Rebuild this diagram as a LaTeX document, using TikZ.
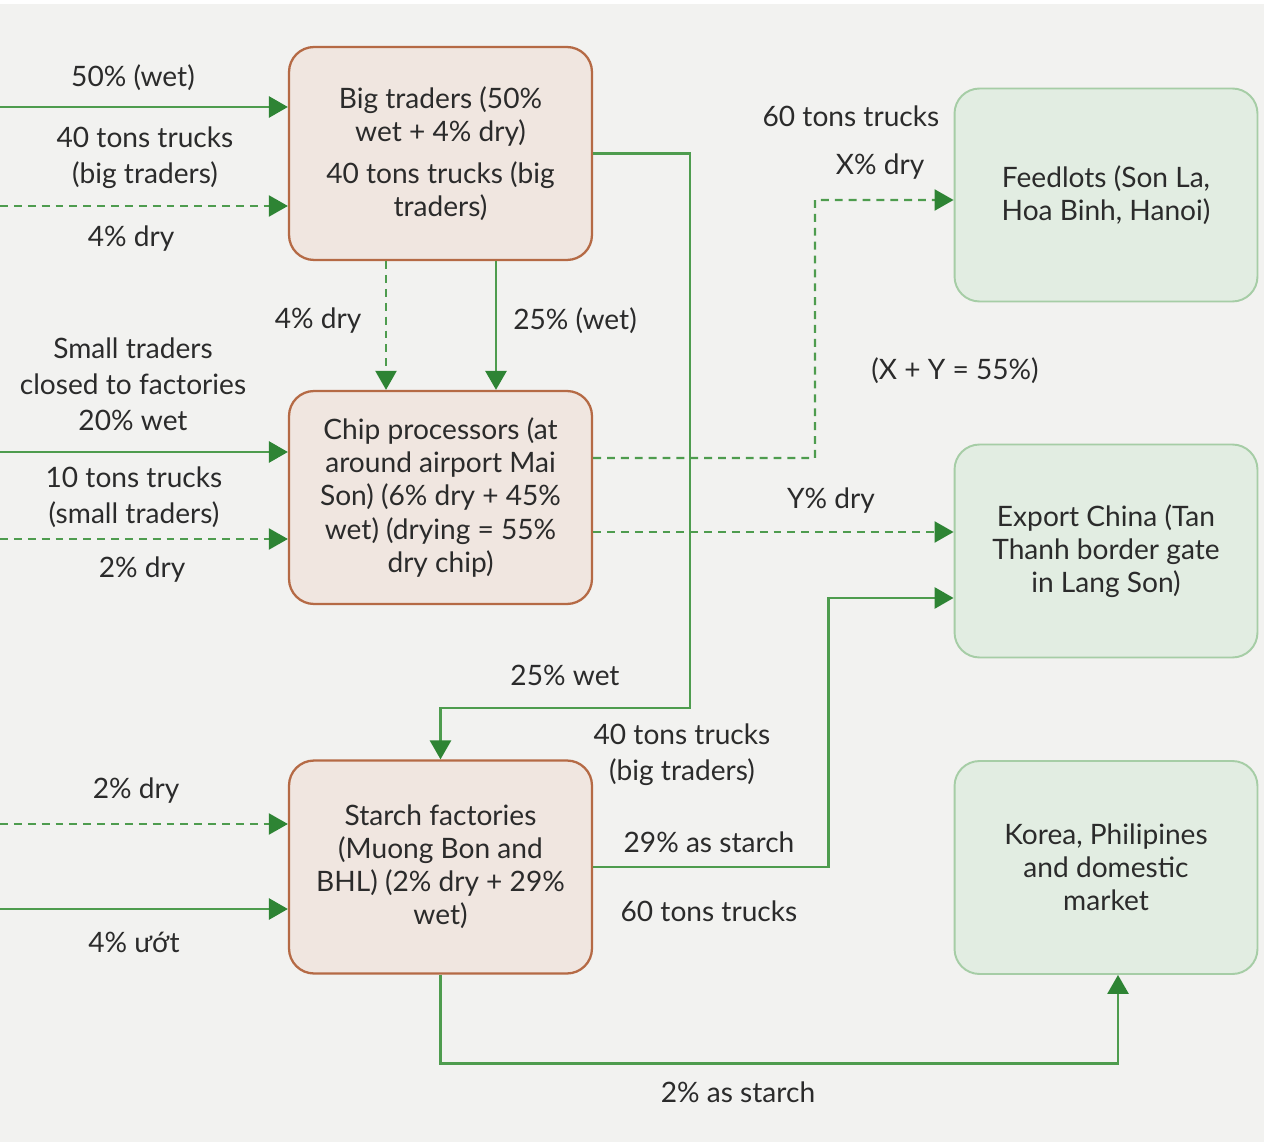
\documentclass[tikz,border=0pt]{standalone}
\usepackage{fontspec}
\setmainfont{Lato}
\usetikzlibrary{arrows.meta, positioning, calc}
\definecolor{flowgreen}{HTML}{4E9C4E}
\definecolor{tipgreen}{HTML}{2E8434}
\definecolor{clay}{HTML}{B56A45}
\definecolor{clayfill}{HTML}{F0E6E0}
\definecolor{sage}{HTML}{A6CDA6}
\definecolor{sagefill}{HTML}{E2EDE2}
\definecolor{paper}{HTML}{F2F2F0}
\definecolor{ink}{HTML}{2B2B2B}
\newcommand{\boxfont}{\fontsize{16}{18.8}\selectfont}
\newcommand{\lblfont}{\fontsize{16}{20.5}\selectfont}
\tikzset{
  tradebox/.style={rectangle, rounded corners=0.5cm, draw=clay, fill=clayfill,
                   line width=1.3pt, minimum width=6.06cm, minimum height=4.26cm,
                   align=center, font=\boxfont, text=ink},
  destbox/.style={tradebox, draw=sage, fill=sagefill, line width=1.1pt},
  lbl/.style={align=center, font=\lblfont, text=ink},
  wet/.style={-{Triangle[length=0.38cm, width=0.42cm, color=tipgreen]},
              flowgreen, line width=1.6pt},
  dry/.style={wet, line width=1.3pt, dash pattern=on 4.5pt off 3.4pt},
}

\begin{document}
\begin{tikzpicture}[x=0.02cm, y=-0.02cm]
\useasboundingbox (0,0) rectangle (1264,1148);
\fill[paper] (0,4) rectangle (1264,1142);

% actors
\node[tradebox] (BT) at (440.5,153.5) {Big traders (50\%\\wet + 4\% dry)\\[5pt]40 tons trucks (big\\traders)};
\node[tradebox] (CP) at (440.5,497.5) {Chip processors (at\\around airport Mai\\Son) (6\% dry + 45\%\\wet) (drying = 55\%\\dry chip)};
\node[tradebox] (SF) at (440.5,867) {Starch factories\\(Muong Bon and\\BHL) (2\% dry + 29\%\\wet)};
\node[destbox] (FL) at (1106,195) {Feedlots (Son La,\\Hoa Binh, Hanoi)};
\node[destbox] (EC) at (1106,551) {Export China (Tan\\Thanh border gate\\in Lang Son)};
\node[destbox] (KO) at (1106,867.5) {Korea, Philipines\\and domestic\\market};

% loose ends on the left
\coordinate (inBTwet) at (0,107);
\coordinate (inBTdry) at (0,206);
\coordinate (inCPwet) at (0,452);
\coordinate (inCPdry) at (0,539);
\coordinate (inSFdry) at (0,824);
\coordinate (inSFwet) at (0,909);
\coordinate (bendBT) at (690,708);
\coordinate (bendX) at (815,458);

% flows
\draw[wet] (inBTwet) -- (inBTwet -| BT.west);
\draw[dry] (inBTdry) -- (inBTdry -| BT.west);
\draw[wet] (inCPwet) -- (inCPwet -| CP.west);
\draw[dry] (inCPdry) -- (inCPdry -| CP.west);
\draw[dry] (inSFdry) -- (inSFdry -| SF.west);
\draw[wet] (inSFwet) -- (inSFwet -| SF.west);
\draw[dry] ([xshift=-1.09cm]BT.south) -- ([xshift=-1.09cm]CP.north);
\draw[wet] ([xshift=1.11cm]BT.south) -- ([xshift=1.11cm]CP.north);
\draw[wet] (BT.east) -| (bendBT) -| (SF.north);
\draw[dry] ([yshift=0.79cm]CP.east) -- (bendX) |- ([yshift=-0.1cm]FL.west);
\draw[dry] ([yshift=-0.69cm]CP.east) -- ([yshift=-0.69cm]CP.east -| EC.west);
\draw[wet] (SF.east) -- ++(235,0) |- ([yshift=-0.94cm]EC.west);
\draw[wet] (SF.south) -- ++(0,89) -| ([xshift=0.24cm]KO.south);

% labels
\node[lbl] (l50wet) at (133,78) {50\% (wet)};
\node[lbl] (lBigTrucks) at (145,158) {40 tons trucks\\(big traders)};
\node[lbl] (l4dryIn) at (131,239) {4\% dry};
\node[lbl] (l4dryDown) at (318,321) {4\% dry};
\node[lbl] (l25wetDown) at (575,321) {25\% (wet)};
\node[lbl] (lSmall) at (133,384) {Small traders\\closed to factories\\20\% wet};
\node[lbl] (lSmallTrucks) at (134,497) {10 tons trucks\\(small traders)};
\node[lbl] (l2dryCP) at (142,570) {2\% dry};
\node[lbl] (l60FL) at (851,116) {60 tons trucks};
\node[lbl] (lXdry) at (880,167) {X\% dry};
\node[lbl] (lXY) at (955,371) {(X + Y = 55\%)};
\node[lbl] (lYdry) at (831,501) {Y\% dry};
\node[lbl] (l25wet) at (565,675) {25\% wet};
\node[lbl] (lBigTrucks2) at (682,755) {40 tons trucks\\(big traders)};
\node[lbl] (l2drySF) at (136,791) {2\% dry};
\node[lbl] (l4uot) at (134,942) {4\% ướt};
\node[lbl] (l29starch) at (709,842) {29\% as starch};
\node[lbl] (l60SF) at (709,911) {60 tons trucks};
\node[lbl] (l2starch) at (738,1092) {2\% as starch};
\end{tikzpicture}
\end{document}
